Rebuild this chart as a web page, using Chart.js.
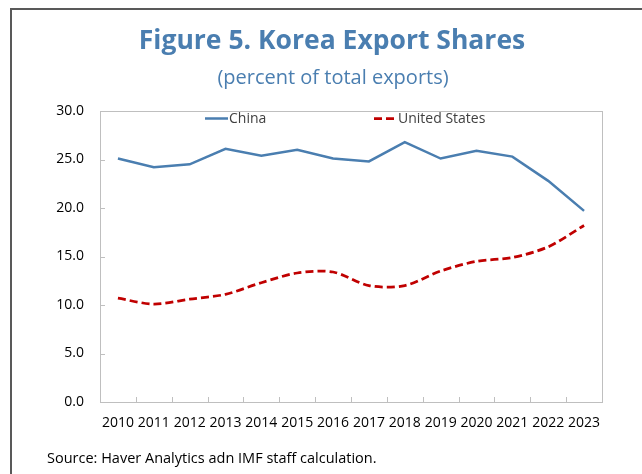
<!DOCTYPE html>
<html>
<head>
<meta charset="utf-8">
<script src="https://cdn.jsdelivr.net/npm/chart.js@4"></script>
<style>
  body { margin: 0; background: #fff; }
  #wrap { width: 642px; height: 474px; }
</style>
</head>
<body>
<div id="wrap"><canvas id="myChart" width="642" height="474"></canvas></div>
<script>
let years = ['2010', '2011', '2012', '2013', '2014', '2015', '2016', '2017', '2018', '2019', '2020', '2021', '2022', '2023'];
let china = [25.1, 24.2, 24.5, 26.1, 25.4, 26.0, 25.1, 24.8, 26.8, 25.1, 25.9, 25.3, 22.8, 19.7];
let unitedStates = [10.7, 10.1, 10.6, 11.1, 12.3, 13.3, 13.4, 12.0, 12.0, 13.5, 14.5, 14.9, 16.0, 18.2];
let yTicks = [0, 5, 10, 15, 20, 25, 30];

let titleText = 'Figure 5. Korea Export Shares';
let subtitleText = '(percent of total exports)';
let sourceText = 'Source: Haver Analytics adn IMF staff calculation.';

const blue = '#4a7eb0';
const red = '#c00000';
const font = "'Open Sans', sans-serif";

// frame, plot box, inner ticks, titles, legend and source
const decorations = {
  id: 'decorations',
  afterDatasetsDraw(chart) {
    const ctx = chart.ctx;
    const area = chart.chartArea;
    const x = chart.scales.x;
    const y = chart.scales.y;
    ctx.save();

    // outer frame
    ctx.strokeStyle = '#595959';
    ctx.lineWidth = 2;
    ctx.beginPath();
    ctx.moveTo(11, 474);
    ctx.lineTo(11, 9);
    ctx.lineTo(642, 9);
    ctx.stroke();

    // plot box
    ctx.strokeStyle = '#bfbfbf';
    ctx.lineWidth = 1;
    ctx.strokeRect(Math.round(area.left) + 0.5, Math.round(area.top) + 0.5,
      Math.round(area.right - area.left), Math.round(area.bottom - area.top));

    // ticks pointing inside
    ctx.beginPath();
    for (let i = 1; i < years.length; i++) {
      let px = Math.round((x.getPixelForValue(i - 1) + x.getPixelForValue(i)) / 2) + 0.5;
      ctx.moveTo(px, area.bottom);
      ctx.lineTo(px, area.bottom - 5);
    }
    yTicks.forEach(v => {
      let py = Math.round(y.getPixelForValue(v)) + 0.5;
      ctx.moveTo(area.left, py);
      ctx.lineTo(area.left + 5, py);
    });
    ctx.stroke();

    // titles
    ctx.fillStyle = blue;
    ctx.textAlign = 'center';
    ctx.textBaseline = 'alphabetic';
    ctx.font = `bold 26.5px ${font}`;
    ctx.fillText(titleText, 332, 49);
    ctx.font = `20px ${font}`;
    ctx.fillText(subtitleText, 333, 84);

    // legend
    ctx.textAlign = 'left';
    ctx.textBaseline = 'middle';
    ctx.font = `14px ${font}`;
    let legendX = [205, 374];
    chart.data.datasets.forEach((ds, i) => {
      let lx = legendX[i];
      ctx.strokeStyle = ds.borderColor;
      ctx.lineWidth = ds.borderWidth;
      ctx.setLineDash(ds.borderDash || []);
      ctx.beginPath();
      ctx.moveTo(lx, 118.5);
      ctx.lineTo(lx + 23, 118.5);
      ctx.stroke();
      ctx.setLineDash([]);
      ctx.fillStyle = '#404040';
      ctx.fillText(ds.label, lx + 24, 119);
    });

    // source
    ctx.fillStyle = '#000';
    ctx.font = `14.5px ${font}`;
    ctx.fillText(sourceText, 47, 459);
    ctx.restore();
  }
};

new Chart(document.getElementById('myChart'), {
  type: 'line',
  data: {
    labels: years,
    datasets: [
      {
        label: 'China',
        data: china,
        borderColor: blue,
        backgroundColor: blue,
        borderWidth: 2.5,
        pointRadius: 0,
        tension: 0,
      },
      {
        label: 'United States',
        data: unitedStates,
        borderColor: red,
        backgroundColor: red,
        borderWidth: 2.75,
        borderDash: [8, 4],
        pointRadius: 0,
        tension: 0.3,
      },
    ],
  },
  options: {
    responsive: false,
    devicePixelRatio: 1,
    animation: false,
    layout: { padding: { left: 30, right: 40, top: 111, bottom: 32 } },
    plugins: {
      legend: { display: false },
      title: { display: false },
      tooltip: { enabled: false },
    },
    scales: {
      x: {
        offset: true,
        grid: { display: false, drawTicks: false },
        border: { display: false },
        ticks: {
          color: '#000',
          font: { family: font, size: 14 },
          padding: 13,
          maxRotation: 0,
          autoSkip: false,
        },
        afterFit(scale) { scale.height = 40; },
      },
      y: {
        min: 0,
        max: 30,
        grid: { display: false, drawTicks: false },
        border: { display: false },
        ticks: {
          stepSize: 5,
          color: '#000',
          font: { family: font, size: 14 },
          padding: 16,
          callback: v => v.toFixed(1),
        },
        afterFit(scale) { scale.width = 70; },
      },
    },
  },
  plugins: [decorations],
});
</script>
</body>
</html>
